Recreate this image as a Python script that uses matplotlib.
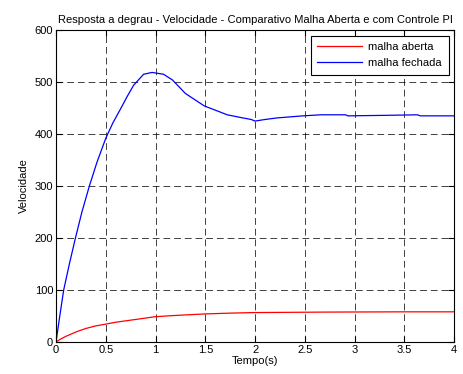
import matplotlib
matplotlib.use("Agg")
import matplotlib.pyplot as plt

plt.rcParams['font.family'] = ['Liberation Sans', 'DejaVu Sans']

t_aberta = [0, 0.05, 0.1, 0.21, 0.3, 0.4, 0.49, 0.6, 0.75, 0.9, 0.99, 1.15, 1.29, 1.5, 1.75, 1.96, 2.3, 2.7, 3.0, 3.5, 4.0]
v_aberta = [0, 6, 11, 20, 26, 31, 34, 38, 42, 46, 48.5, 50.5, 52, 54, 55.5, 56.5, 57, 57.5, 57.7, 58, 58]

t_fechada = [0, 0.037, 0.077, 0.134, 0.195, 0.26, 0.335, 0.41, 0.5, 0.57, 0.65, 0.72, 0.78, 0.88, 0.965, 1.08, 1.17, 1.3, 1.49, 1.64, 1.72, 1.85, 1.96, 2.0, 2.1, 2.22, 2.35, 2.48, 2.66, 2.91, 2.93, 3.32, 3.63, 3.66, 3.98, 4.0]
v_fechada = [0, 49, 100, 150, 200, 250, 300, 345, 392, 421, 449, 474, 494, 515, 518.5, 515, 504, 478, 454, 443, 437, 432, 428, 425, 428, 431, 433, 435, 437, 437, 435, 436, 437, 435, 435, 435]

fig = plt.figure(figsize=(4.63, 3.74), dpi=100)
ax = fig.add_axes([0.121, 0.0856, 0.860, 0.834])

ax.plot(t_aberta, v_aberta, color='#ff0000', lw=0.9, label='malha aberta')
ax.plot(t_fechada, v_fechada, color='#0000ff', lw=0.9, label='malha fechada')

ax.set_xlim(0, 4)
ax.set_ylim(0, 600)
ax.set_xticks([0, 0.5, 1, 1.5, 2, 2.5, 3, 3.5, 4])
ax.set_xticklabels(['0', '0.5', '1', '1.5', '2', '2.5', '3', '3.5', '4'])
ax.set_yticks([0, 100, 200, 300, 400, 500, 600])
ax.tick_params(direction='in', top=True, right=True, labelsize=8, length=4, width=0.8, pad=2)
ax.grid(True, color='black', linestyle=(0, (7, 4)), linewidth=0.7, alpha=0.75)
for s in ax.spines.values():
    s.set_linewidth(0.8)

ax.set_title('Resposta a degrau - Velocidade - Comparativo Malha Aberta e com Controle PI', fontsize=8, pad=5)
ax.set_xlabel('Tempo(s)', fontsize=8, labelpad=1)
ax.set_ylabel('Velocidade', fontsize=8, labelpad=4)

leg = ax.legend(loc='upper right', fontsize=8, fancybox=False, framealpha=1, edgecolor='black',
                borderaxespad=0.5, handlelength=4.0, borderpad=0.6, labelspacing=0.5,
                handletextpad=0.6)
leg.get_frame().set_linewidth(0.8)

fig.savefig('out.png', dpi=100)
